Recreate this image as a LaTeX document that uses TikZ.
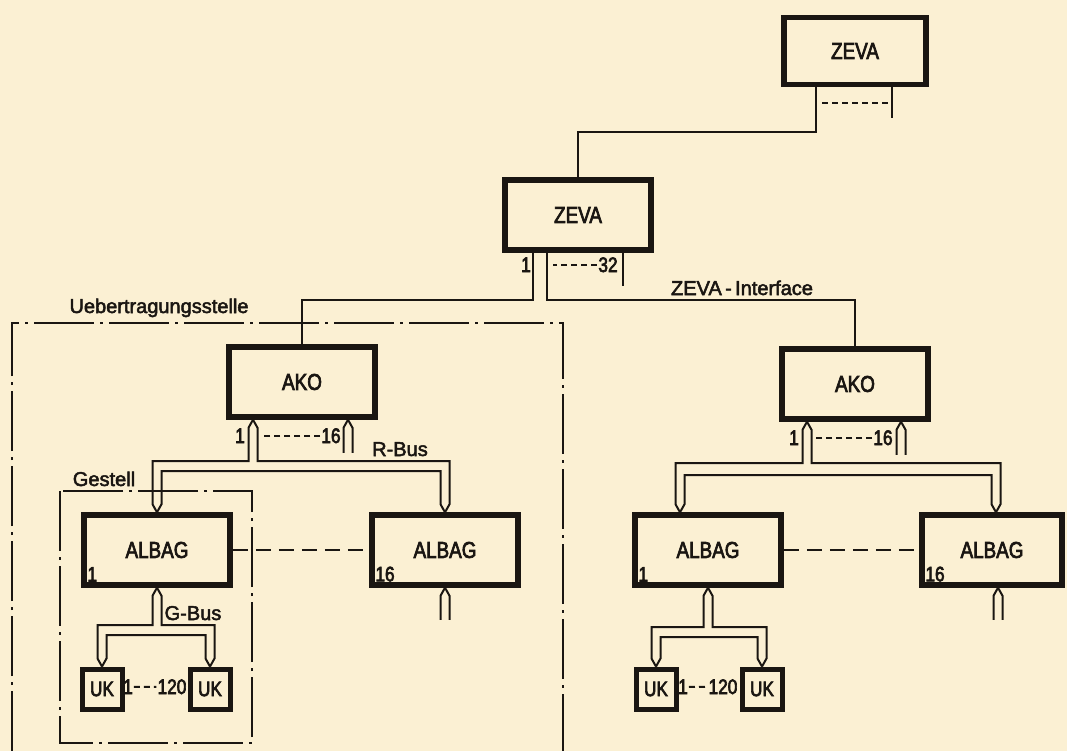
\documentclass[tikz,border=0pt]{standalone}
\usepackage{fontspec}
\setmainfont{Liberation Sans}[FakeBold=2.5]
\newfontfamily\boxfont{Liberation Sans}[FakeStretch=0.82, FakeBold=3]
\definecolor{paper}{RGB}{251,240,211}
\definecolor{ink}{RGB}{26,22,18}

\begin{document}
\begin{tikzpicture}[x=1pt, y=-1pt,
		unit/.style={draw=ink, text=ink, line width=5.5pt, minimum width=146pt, minimum height=70pt, inner sep=0pt, font=\boxfont\fontsize{23}{23}\selectfont},
		terminal/.style={draw=ink, text=ink, line width=5pt, minimum width=40pt, minimum height=40pt, inner sep=0pt, font=\boxfont\fontsize{21}{21}\selectfont},
		caption/.style={text=ink, inner sep=0pt, anchor=base, font=\fontsize{20}{20}\selectfont},
		num/.style={text=ink, inner sep=0pt, anchor=base, font=\boxfont\fontsize{21}{21}\selectfont},
		wire/.style={draw=ink, line width=2pt},
		countdash/.style={wire, dash pattern=on 6pt off 4pt},
		linkdash/.style={wire, dash pattern=on 15pt off 8pt},
		enclosure/.style={wire, dash pattern=on 60pt off 6pt on 3pt off 6pt}]
		% Paper
		\fill[paper] (0,0) rectangle (1067,751);
		\useasboundingbox (0,0) rectangle (1067,751);
		
		% Frames
		\draw[enclosure] (12,751) -- (12,323) -- (563,323) -- (563,751);
		\draw[enclosure] (60,491) rectangle (252,743);
		\node[caption] (station) at (159,313) {Uebertragungsstelle};
		\node[caption] (rack) at (104,486) {Gestell};
		
		% Central units
		\node[unit, minimum width=142pt, minimum height=67pt] (zevaA) at (855,51) {ZEVA};
		\node[unit] (zevaB) at (578,215) {ZEVA};
		\node[unit] (akoL) at (302,382) {AKO};
		\node[unit] (akoR) at (855,384) {AKO};
		
		% Rack units
		\node[unit] (albagLA) at (157,550) {ALBAG};
		\node[unit] (albagLB) at (445,550) {ALBAG};
		\node[unit] (albagRA) at (708,550) {ALBAG};
		\node[unit, minimum width=140pt] (albagRB) at (992,550) {ALBAG};
		\foreach \n/\t in {albagLA/1, albagLB/16, albagRA/1, albagRB/16}
		\node[num, anchor=south west] at ([xshift=6pt,yshift=6pt]\n.south west) {\t};
		
		% Line units
		\node[terminal] (ukLA) at (102,689) {UK};
		\node[terminal] (ukLB) at (210,689) {UK};
		\node[terminal] (ukRA) at (656,689) {UK};
		\node[terminal] (ukRB) at (762,689) {UK};
		
		% ZEVA links
		\draw[wire] ([xshift=-39pt]zevaA.south) -- ++(0,45) -| (zevaB.north);
		\draw[wire] ([xshift=37pt]zevaA.south) -- ++(0,31);
		\draw[countdash] ([xshift=-33pt,yshift=-16pt]zevaA.south) -- ++(66,0);
		
		\draw[wire] ([xshift=-45pt]zevaB.south) -- ++(0,47) -| (akoL.north);
		\draw[wire] ([xshift=-31pt]zevaB.south) -- ++(0,47) -| (akoR.north);
		\draw[wire] ([xshift=45pt]zevaB.south) -- ++(0,33);
		\node[num] (nB1) at (526,272) {1};
		\node[num] (nB32) at (608,272) {32};
		\draw[countdash] ([xshift=-1pt]nB32.west) -- ++(-44,0);
		\node[caption] (iface) at (742,295) {ZEVA\,-\,Interface};
		
		% R-Bus, left
		\coordinate (rL) at ([xshift=-49pt]akoL.south);
		\coordinate (rL16) at ([xshift=46pt]akoL.south);
		\draw[wire] (rL) -- ++(-4.5,8) |- (152.5,461) -- ([xshift=-4.5pt,yshift=8pt]albagLA.north) -- (albagLA.north);
		\draw[wire] (rL) -- ++(4.5,8) |- (449.5,461) -- ([xshift=4.5pt,yshift=8pt]albagLB.north) -- (albagLB.north);
		\draw[wire] (albagLA.north) -- ++(4.5,-8) |- (440.5,471) -- ([xshift=-4.5pt,yshift=8pt]albagLB.north) -- (albagLB.north);
		\draw[wire] (rL16) ++(-4.5,33) -- ++(0,-25) -- (rL16) -- ++(4.5,8) -- ++(0,25);
		\node[num] (nAL1) at (240,443) {1};
		\node[num] (nAL16) at (331,443) {16};
		\draw[countdash] ([xshift=-1pt]nAL16.west) -- ++(-58,0);
		\node[caption] (rbus) at (400,456) {R-Bus};
		
		% G-Bus, left
		\coordinate (gL) at (albagLA.south);
		\draw[wire] (gL) -- ++(-4.5,8) |- (97.5,625) -- ([xshift=-4.5pt,yshift=8pt]ukLA.north) -- (ukLA.north);
		\draw[wire] (gL) -- ++(4.5,8) |- (214.5,625) -- ([xshift=4.5pt,yshift=8pt]ukLB.north) -- (ukLB.north);
		\draw[wire] (ukLA.north) -- ++(4.5,-8) |- (205.5,635) -- ([xshift=-4.5pt,yshift=8pt]ukLB.north) -- (ukLB.north);
		\draw[wire] (albagLB.south) ++(-4.5,32) -- ++(0,-24) -- (albagLB.south) -- ++(4.5,8) -- ++(0,24);
		\node[num] (nLA1) at (128,694) {1};
		\node[num] (nLA120) at (172,694) {120};
		\draw[countdash] ([xshift=1pt]nLA1.east) -- ([xshift=-1pt]nLA120.west);
		\node[caption] (gbus) at (193,620) {G-Bus};
		
		% Rack link
		\draw[linkdash] (albagLA.east) -- (albagLB.west);
		\draw[linkdash] (albagRA.east) -- (albagRB.west);
		
		% R-Bus, right
		\coordinate (rR) at ([xshift=-48pt]akoR.south);
		\coordinate (rR16) at ([xshift=46pt]akoR.south);
		\coordinate (tRA) at ([xshift=-28pt]albagRA.north);
		\coordinate (tRB) at ([xshift=4pt]albagRB.north);
		\draw[wire] (rR) -- ++(-4.5,8) |- (675.5,463) -- ([xshift=-4.5pt,yshift=8pt]tRA) -- (tRA);
		\draw[wire] (rR) -- ++(4.5,8) |- (1000.5,463) -- ([xshift=4.5pt,yshift=8pt]tRB) -- (tRB);
		\draw[wire] (tRA) -- ++(4.5,-8) |- (991.5,475) -- ([xshift=-4.5pt,yshift=8pt]tRB) -- (tRB);
		\draw[wire] (rR16) ++(-4.5,33) -- ++(0,-25) -- (rR16) -- ++(4.5,8) -- ++(0,25);
		\node[num] (nAR1) at (794,445) {1};
		\node[num] (nAR16) at (883,445) {16};
		\draw[countdash] ([xshift=-1pt]nAR16.west) -- ++(-58,0);
		
		% G-Bus, right
		\coordinate (gR) at (albagRA.south);
		\coordinate (sRB) at ([xshift=6pt]albagRB.south);
		\draw[wire] (gR) -- ++(-4.5,8) |- (651.5,627) -- ([xshift=-4.5pt,yshift=8pt]ukRA.north) -- (ukRA.north);
		\draw[wire] (gR) -- ++(4.5,8) |- (766.5,627) -- ([xshift=4.5pt,yshift=8pt]ukRB.north) -- (ukRB.north);
		\draw[wire] (ukRA.north) -- ++(4.5,-8) |- (757.5,637) -- ([xshift=-4.5pt,yshift=8pt]ukRB.north) -- (ukRB.north);
		\draw[wire] (sRB) ++(-4.5,32) -- ++(0,-24) -- (sRB) -- ++(4.5,8) -- ++(0,24);
		\node[num] (nRA1) at (683,694) {1};
		\node[num] (nRA120) at (723,694) {120};
		\draw[countdash] ([xshift=1pt]nRA1.east) -- ([xshift=-1pt]nRA120.west);
	\end{tikzpicture}
\end{document}
